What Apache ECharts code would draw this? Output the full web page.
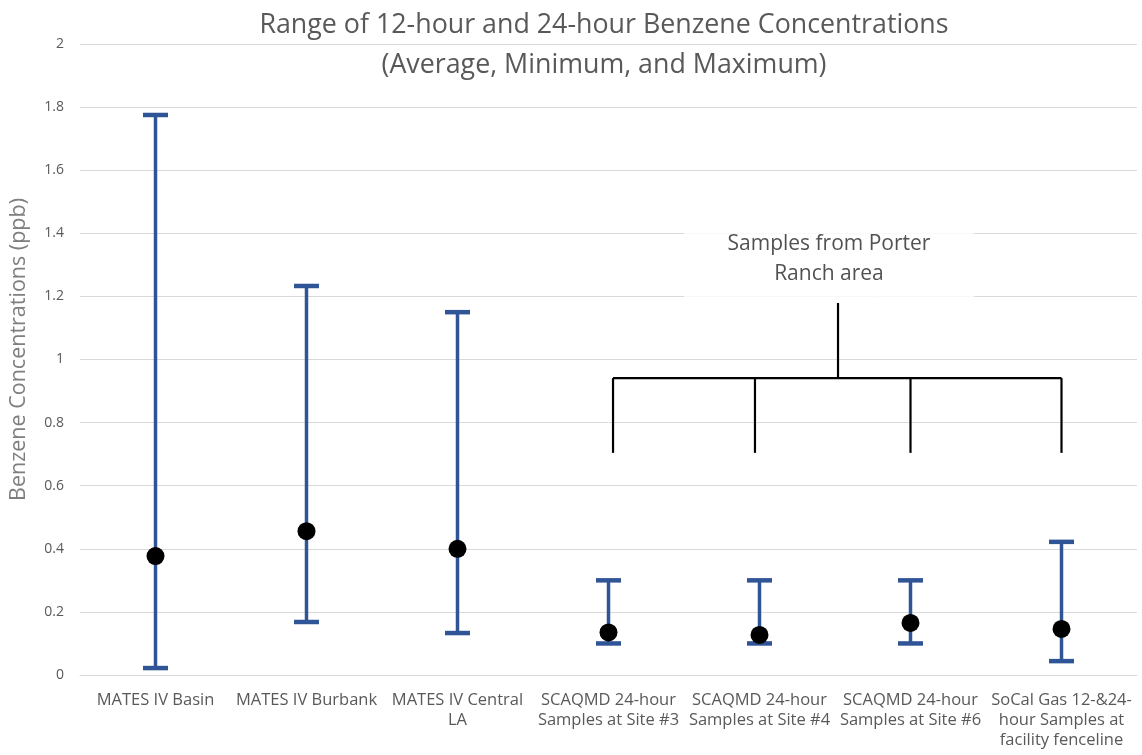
<!DOCTYPE html>
<html>
<head>
<meta charset="utf-8">
<script src="https://cdn.jsdelivr.net/npm/echarts@6/dist/echarts.min.js"></script>
<style>
html,body{margin:0;padding:0;background:#fff;}
#chart{width:1142px;height:755px;}
</style>
</head>
<body>
<div id="chart"></div>
<script>
var categories = ["MATES IV Basin", "MATES IV Burbank", "MATES IV Central\nLA", "SCAQMD 24-hour\nSamples at Site #3", "SCAQMD 24-hour\nSamples at Site #4", "SCAQMD 24-hour\nSamples at Site #6", "SoCal Gas 12-&24-\nhour Samples at\nfacility fenceline"];
var maxValues = [1.775, 1.233, 1.15, 0.30, 0.30, 0.30, 0.422];
var minValues = [0.022, 0.168, 0.133, 0.10, 0.10, 0.10, 0.044];
var avgValues = [0.377, 0.456, 0.40, 0.135, 0.127, 0.165, 0.146];
var bracketX = [3.03, 3.97, 5.0, 6.0];
var bracketCenterX = 4.52;
var bracketLevel = 0.941;
var bracketBottom = 0.704;
var bracketTop = 1.179;
var annotationText = "Samples from Porter\nRanch area";
var annotationPos = [4.46, 1.32];

var font = "Open Sans";
var chart = echarts.init(document.getElementById('chart'), null, {renderer: 'canvas'});

var barData = categories.map(function (c, i) { return [i, minValues[i], maxValues[i]]; });
var avgData = categories.map(function (c, i) { return [i, avgValues[i]]; });

var bracketSeries = [];
function seg(a, b) {
  bracketSeries.push({
    type: 'line', xAxisIndex: 1, yAxisIndex: 0, data: [a, b],
    symbol: 'none', silent: true, z: 5,
    lineStyle: {color: '#000', width: 2.2}, animation: false
  });
}
seg([bracketX[0], bracketLevel], [bracketX[bracketX.length - 1], bracketLevel]);
bracketX.forEach(function (x) { seg([x, bracketLevel], [x, bracketBottom]); });
seg([bracketCenterX, bracketLevel], [bracketCenterX, bracketTop]);

var option = {
  animation: false,
  backgroundColor: '#fff',
  title: {
    text: "Range of 12-hour and 24-hour Benzene Concentrations\n(Average, Minimum, and Maximum)",
    left: 599, top: 0, textAlign: 'center',
    textStyle: {fontFamily: font, fontSize: 26.8, fontWeight: 'normal', color: '#595959', lineHeight: 40}
  },
  grid: {left: 77, right: 5, top: 44, bottom: 80},
  xAxis: [{
    type: 'category', data: categories,
    axisLine: {lineStyle: {color: '#d9d9d9', width: 1}},
    axisTick: {show: false},
    axisLabel: {fontFamily: font, fontSize: 16.5, color: '#595959', lineHeight: 20, margin: 15, interval: 0}
  }, {
    type: 'value', min: -0.5, max: 6.5, show: false
  }],
  yAxis: {
    type: 'value', min: 0, max: 2, interval: 0.2,
    name: 'Benzene Concentrations (ppb)', nameLocation: 'middle', nameGap: 50,
    nameTextStyle: {fontFamily: font, fontSize: 21.5, color: '#7f7f7f', padding: [0, 0, 0, 20]},
    axisLine: {show: false}, axisTick: {show: false},
    axisLabel: {fontFamily: font, fontSize: 14, color: '#595959', margin: 16,
      formatter: function (v) { return String(Math.round(v * 10) / 10); }},
    splitLine: {lineStyle: {color: '#d9d9d9', width: 1}}
  },
  series: [{
    type: 'custom', xAxisIndex: 0, yAxisIndex: 0, data: barData, z: 3,
    renderItem: function (params, api) {
      var x = api.value(0);
      var lo = api.coord([x, api.value(1)]);
      var hi = api.coord([x, api.value(2)]);
      var half = 12.5;
      var st = {stroke: '#2F5597', lineWidth: 3.5};
      var cap = {stroke: '#2F5597', lineWidth: 4.5};
      return {type: 'group', children: [
        {type: 'line', shape: {x1: lo[0], y1: lo[1], x2: hi[0], y2: hi[1]}, style: st},
        {type: 'line', shape: {x1: lo[0] - half, y1: lo[1], x2: lo[0] + half, y2: lo[1]}, style: cap},
        {type: 'line', shape: {x1: hi[0] - half, y1: hi[1], x2: hi[0] + half, y2: hi[1]}, style: cap}
      ]};
    }
  }, {
    type: 'scatter', xAxisIndex: 0, yAxisIndex: 0, data: avgData, z: 4,
    symbol: 'circle', symbolSize: 18, itemStyle: {color: '#000', opacity: 1}
  }, {
    type: 'scatter', xAxisIndex: 1, yAxisIndex: 0, data: [annotationPos], z: 6,
    symbolSize: 0, silent: true,
    label: {show: true, position: 'inside', formatter: annotationText,
      fontFamily: font, fontSize: 21, color: '#262626', lineHeight: 30, align: 'center',
      backgroundColor: '#fff', width: 280, padding: [10, 5, 12, 5]}
  }].concat(bracketSeries)
};
chart.setOption(option);
</script>
</body>
</html>
